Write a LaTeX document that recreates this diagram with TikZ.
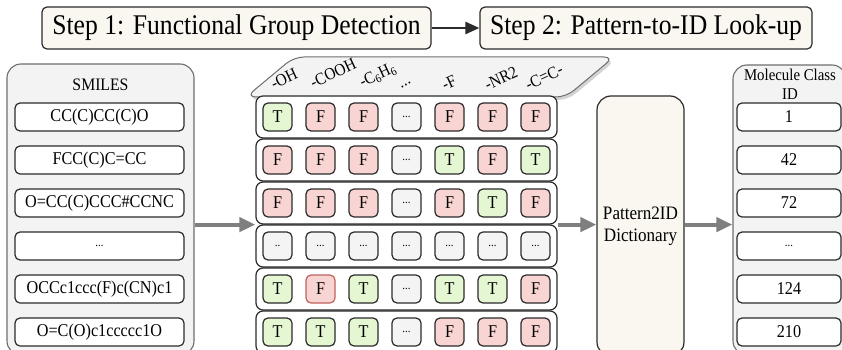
\documentclass[tikz,border=0pt]{standalone}
\usepackage{fontspec}
\setmainfont{Liberation Serif}[FakeStretch=0.9]
\usetikzlibrary{shadows,arrows.meta}

\definecolor{edgedark}{HTML}{2B2B2B}
\definecolor{panelline}{HTML}{6E6E6E}
\definecolor{panelgray}{HTML}{F3F3F3}
\definecolor{beige}{HTML}{F9F7EF}
\definecolor{tgreen}{HTML}{E4F7D2}
\definecolor{fred}{HTML}{F8D5D2}
\definecolor{redline}{HTML}{C0625E}
\definecolor{dotgray}{HTML}{F4F4F4}
\definecolor{flowgray}{HTML}{7F7F7F}

\begin{document}
\begin{tikzpicture}[x=1pt,y=-1pt,
  stepbox/.style={draw=edgedark, fill=beige, rounded corners=5pt, line width=1.2pt,
    minimum height=42pt, inner sep=0pt, font=\fontsize{28.5}{32}\selectfont},
  panel/.style={draw=panelline, fill=panelgray, rounded corners=14pt, line width=1.1pt},
  entry/.style={draw=edgedark, fill=white, rounded corners=5pt, line width=1.2pt,
    minimum width=169pt, minimum height=28pt, inner sep=0pt, font=\fontsize{18}{20}\selectfont},
  dotentry/.style={entry, font=\fontsize{12}{14}\selectfont},
  rowbox/.style={draw=edgedark, fill=white, rounded corners=7pt, line width=1.2pt,
    minimum width=301pt, minimum height=42pt, inner sep=0pt},
  cell/.style={draw=edgedark, rounded corners=5pt, line width=1.2pt, minimum width=29pt,
    minimum height=28pt, inner sep=0pt, font=\fontsize{18}{20}\selectfont},
  cT/.style={cell, fill=tgreen, node contents={T}},
  cF/.style={cell, fill=fred, node contents={F}},
  cR/.style={cell, fill=fred, draw=redline, node contents={F}},
  cD/.style={cell, fill=dotgray, font=\fontsize{12}{14}\selectfont, node contents={...}},
  cE/.style={cell, fill=dotgray, font=\fontsize{12}{14}\selectfont, node contents={..}},
  collab/.style={rotate=25, inner sep=0pt, font=\fontsize{17}{19}\selectfont},
  label/.style={inner sep=0pt, align=center, font=\fontsize{17.5}{19}\selectfont},
  banner/.style={draw=panelline, fill=panelgray, rounded corners=10pt, line width=1pt,
    drop shadow={shadow xshift=2pt, shadow yshift=-3pt, opacity=0.35}},
  flow/.style={draw=flowgray, line width=4pt, -{Triangle[length=16pt,width=14pt]}},
  steparrow/.style={draw=edgedark, line width=2.4pt, -{Triangle[length=14pt,width=12pt]}}
]
\useasboundingbox (0,0) rectangle (842,350);

% step headers
\node[stepbox, minimum width=389pt] (s1) at (236.5,28) {Step 1: Functional Group Detection};
\node[stepbox, minimum width=332pt] (s2) at (646,28) {Step 2: Pattern-to-ID Look-up};
\draw[steparrow] (s1) -- (s2);

% SMILES column
\node[panel, minimum width=187pt, minimum height=291pt] (smiles) at (100.5,209.5) {};
\node[label] (smilestitle) at (100.5,85) {SMILES};
\node[entry] (sm1) at (99.5,117) {CC(C)CC(C)O};
\node[entry] (sm2) at (99.5,160) {FCC(C)C=CC};
\node[entry] (sm3) at (99.5,203) {O=CC(C)CCC\#CCNC};
\node[dotentry] (sm4) at (99.5,246) {...};
\node[entry] (sm5) at (99.5,289) {OCCc1ccc(F)c(CN)c1};
\node[entry] (sm6) at (99.5,332) {O=C(O)c1ccccc1O};

% functional group header strip
\draw[banner] (246,97) -- (294,57) -- (614,57) -- (566,97) -- cycle;
\node[collab] (lab1) at (284,79) {-OH};
\node[collab] (lab2) at (333,73) {-COOH};
\node[collab] (lab3) at (378,76) {-C\textsubscript{6}H\textsubscript{6}};
\node[collab] (lab4) at (406,85) {...};
\node[collab] (lab5) at (449,83) {-F};
\node[collab] (lab6) at (501,78) {-NR2};
\node[collab] (lab7) at (544,77) {-C=C-};

% boolean pattern rows
\foreach \ri in {1,...,6}
  \node[rowbox] (row\ri) at (406.5,{117+43*(\ri-1)}) {};
\foreach \rowlist [count=\ri] in {{T,F,F,D,F,F,F},{F,F,F,D,T,F,T},{F,F,F,D,F,T,F},
    {E,D,D,D,D,D,D},{T,R,T,D,T,T,F},{T,T,T,D,F,F,F}}
  \foreach \v [count=\ci] in \rowlist
    \node (cell-\ri-\ci) at ({277.5+43*(\ci-1)},{117+43*(\ri-1)}) [c\v];

% dictionary
\node[draw=edgedark, fill=beige, rounded corners=14pt, line width=1.2pt,
  minimum width=87pt, minimum height=260pt, align=center,
  font=\fontsize{19}{22}\selectfont] (dict) at (640.5,226) {Pattern2ID\\Dictionary};

% class id column
\node[panel, minimum width=113pt, minimum height=290pt] (cls) at (789.5,210) {};
\node[label, font=\fontsize{16.5}{19}\selectfont] (clstitle) at (790,84.5) {Molecule Class\\ID};
\node[entry, minimum width=104pt] (id1) at (789,117) {1};
\node[entry, minimum width=104pt] (id2) at (789,160) {42};
\node[entry, minimum width=104pt] (id3) at (789,203) {72};
\node[dotentry, minimum width=104pt] (id4) at (789,246) {...};
\node[entry, minimum width=104pt] (id5) at (789,289) {124};
\node[entry, minimum width=104pt] (id6) at (789,332) {210};

% flow arrows
\draw[flow] (smiles.east |- row3.south) -- (row3.south west);
\draw[flow] (row3.south east) -- (dict.west |- row3.south);
\draw[flow] (dict.east |- row3.south) -- (cls.west |- row3.south);
\end{tikzpicture}
\end{document}
